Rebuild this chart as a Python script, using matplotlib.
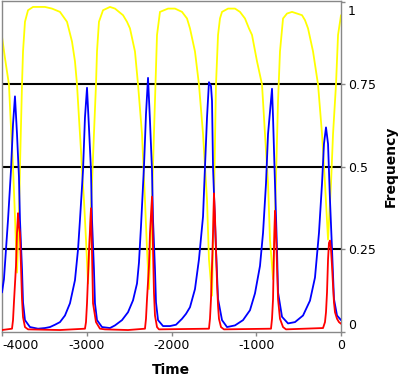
import matplotlib
matplotlib.use('Agg')
import matplotlib.pyplot as plt
import matplotlib.transforms as mtransforms

plt.rcParams['font.family'] = ['DejaVu Sans']
plt.rcParams['axes.unicode_minus'] = False

# yellow series (time, frequency)
yellow_t = [-4000, -3965, -3918, -3894, -3870, -3847, -3823, -3800, -3788, -3764, -3752, -3729, -3693,
            -3634, -3493, -3410, -3316, -3233, -3174, -3139, -3115, -3092, -3068, -3056, -3033, -3009,
            -2985, -2962, -2938, -2915, -2891, -2879, -2856, -2808, -2726, -2667, -2572, -2525, -2490,
            -2431, -2395, -2348, -2313, -2289, -2266, -2242, -2207, -2171, -2136, -2041, -1959, -1876,
            -1817, -1782, -1723, -1676, -1628, -1581, -1558, -1522, -1499, -1475, -1451, -1428, -1404,
            -1333, -1251, -1192, -1133, -1086, -1050, -991, -932, -897, -861, -838, -802, -779, -743,
            -720, -684, -637, -578, -460, -425, -389, -330, -271, -224, -189, -153, -118, -94, -59, -35, 0]
yellow_f = [0.895, 0.83, 0.75, 0.62, 0.50, 0.35, 0.18, 0.35, 0.50, 0.75, 0.85, 0.94, 0.975,
            0.985, 0.985, 0.98, 0.97, 0.94, 0.88, 0.82, 0.75, 0.65, 0.55, 0.49, 0.40, 0.28,
            0.147, 0.30, 0.45, 0.60, 0.75, 0.85, 0.94, 0.975, 0.985, 0.98, 0.96, 0.94, 0.92,
            0.85, 0.75, 0.60, 0.40, 0.25, 0.13, 0.30, 0.60, 0.90, 0.97, 0.98, 0.98, 0.97,
            0.95, 0.92, 0.85, 0.75, 0.60, 0.40, 0.22, 0.11, 0.40, 0.75, 0.90, 0.95, 0.97,
            0.98, 0.98, 0.97, 0.95, 0.92, 0.90, 0.82, 0.75, 0.60, 0.45, 0.28, 0.16, 0.35, 0.70,
            0.85, 0.95, 0.965, 0.97, 0.96, 0.945, 0.92, 0.85, 0.75, 0.60, 0.45, 0.28, 0.45, 0.60, 0.75, 0.90, 0.96]

# blue series
blue_t = [-4000, -3977, -3953, -3929, -3894, -3870, -3847, -3823, -3800, -3788, -3764, -3752, -3729,
          -3670, -3575, -3493, -3434, -3375, -3316, -3257, -3198, -3139, -3103, -3080, -3044, -3021,
          -2997, -2974, -2950, -2938, -2915, -2903, -2879, -2820, -2726, -2667, -2584, -2513, -2454,
          -2407, -2384, -2360, -2325, -2301, -2277, -2254, -2230, -2218, -2195, -2183, -2159, -2100,
          -2018, -1947, -1876, -1829, -1782, -1723, -1676, -1628, -1605, -1581, -1558, -1534, -1522,
          -1510, -1475, -1451, -1404, -1345, -1251, -1156, -1074, -1015, -956, -920, -885, -861,
          -814, -802, -779, -755, -743, -696, -625, -543, -448, -366, -307, -260, -224, -201, -177,
          -153, -130, -106, -83, -47, 0]
blue_f = [0.12, 0.16, 0.25, 0.34, 0.49, 0.63, 0.714, 0.60, 0.47, 0.34, 0.19, 0.09, 0.036,
          0.015, 0.010, 0.012, 0.015, 0.022, 0.030, 0.050, 0.087, 0.157, 0.25, 0.34, 0.49, 0.65,
          0.74, 0.62, 0.49, 0.34, 0.19, 0.087, 0.036, 0.015, 0.012, 0.020, 0.036, 0.060, 0.096,
          0.147, 0.21, 0.32, 0.50, 0.66, 0.77, 0.64, 0.49, 0.34, 0.19, 0.09, 0.036, 0.018,
          0.018, 0.022, 0.040, 0.055, 0.075, 0.13, 0.22, 0.35, 0.50, 0.65, 0.757, 0.745, 0.70,
          0.50, 0.25, 0.10, 0.036, 0.015, 0.020, 0.036, 0.066, 0.117, 0.20, 0.30, 0.45, 0.60,
          0.737, 0.65, 0.45, 0.25, 0.12, 0.046, 0.026, 0.030, 0.050, 0.095, 0.165, 0.30, 0.45, 0.57, 0.62,
          0.57, 0.40, 0.25, 0.10, 0.05, 0.036]

# red series
red_t = [-4000, -3882, -3870, -3859, -3835, -3823, -3811, -3800, -3788, -3776, -3764, -3752, -3729, -3693,
         -3316, -3021, -3009, -2997, -2974, -2950, -2938, -2926, -2891, -2844, -2785, -2513,
         -2313, -2301, -2289, -2266, -2254, -2230, -2218, -2207, -2195, -2171, -2148,
         -1558, -1546, -1534, -1522, -1510, -1499, -1487, -1475, -1463, -1451, -1440, -1416, -1381,
         -826, -814, -802, -791, -779, -767, -755, -743, -720, -684, -649,
         -212, -189, -177, -165, -153, -142, -130, -118, -106, -94, -83, -71, -47, -24, 0]
red_f = [0.006, 0.010, 0.036, 0.09, 0.20, 0.30, 0.36, 0.32, 0.30, 0.20, 0.10, 0.045, 0.015, 0.008,
         0.006, 0.010, 0.030, 0.087, 0.24, 0.375, 0.24, 0.087, 0.030, 0.010, 0.008, 0.006,
         0.010, 0.040, 0.10, 0.20, 0.30, 0.41, 0.25, 0.12, 0.05, 0.015, 0.008,
         0.010, 0.040, 0.10, 0.20, 0.30, 0.42, 0.35, 0.25, 0.15, 0.08, 0.04, 0.015, 0.008,
         0.010, 0.040, 0.10, 0.25, 0.367, 0.30, 0.20, 0.10, 0.04, 0.015, 0.008,
         0.012, 0.030, 0.06, 0.12, 0.22, 0.27, 0.277, 0.25, 0.20, 0.14, 0.09, 0.06, 0.04, 0.03, 0.025]

grid_levels = [0.25, 0.5, 0.75]
x_ticks = [-4000, -3000, -2000, -1000, 0]
y_ticks = [0, 0.25, 0.5, 0.75, 1]
y_ticklabels = ['0', '0.25', '0.5', '0.75', '1']

fig = plt.figure(figsize=(4.0, 3.76), dpi=100)
ax = fig.add_axes([2/400, 44/376, 339/400, 331/376])

for lv in grid_levels:
    ax.axhline(lv, color='black', lw=1.5, zorder=1)

kw = dict(lw=1.3, solid_joinstyle='round', solid_capstyle='round')
ax.plot(yellow_t, yellow_f, color='#ffff00', zorder=2, **kw)
ax.plot(blue_t, blue_f, color='#0000ff', zorder=3, **kw)
ax.plot(red_t, red_f, color='#ff0000', zorder=4, **kw)

ax.set_xlim(-4000, 0)
ax.set_ylim(0, 1.003)

for s in ax.spines.values():
    s.set_color('#888888')
    s.set_linewidth(1.0)

ax.yaxis.tick_right()
ax.set_xticks(x_ticks)
ax.set_xticklabels([str(v) for v in x_ticks])
ax.set_yticks(y_ticks)
ax.set_yticklabels(y_ticklabels)
ax.tick_params(axis='both', direction='out', length=3, width=1, color='#888888',
               labelsize=9, labelcolor='black', pad=2)

# keep the end labels inside the picture, as in the original
xl = ax.get_xticklabels()
xl[0].set_horizontalalignment('left')
yl = ax.get_yticklabels()
yl[0].set_verticalalignment('bottom')
yl[-1].set_verticalalignment('top')
yl[-1].set_transform(yl[-1].get_transform() + mtransforms.ScaledTranslation(0, -3/100, fig.dpi_scale_trans))

fig.text(171/400, 1 - 370/376, 'Time', ha='center', va='center', fontsize=10, fontweight='bold')
fig.text(391/400, 1 - 166/376, 'Frequency', ha='center', va='center', rotation=90,
         fontsize=10, fontweight='bold')

fig.savefig('out.png', dpi=100)
